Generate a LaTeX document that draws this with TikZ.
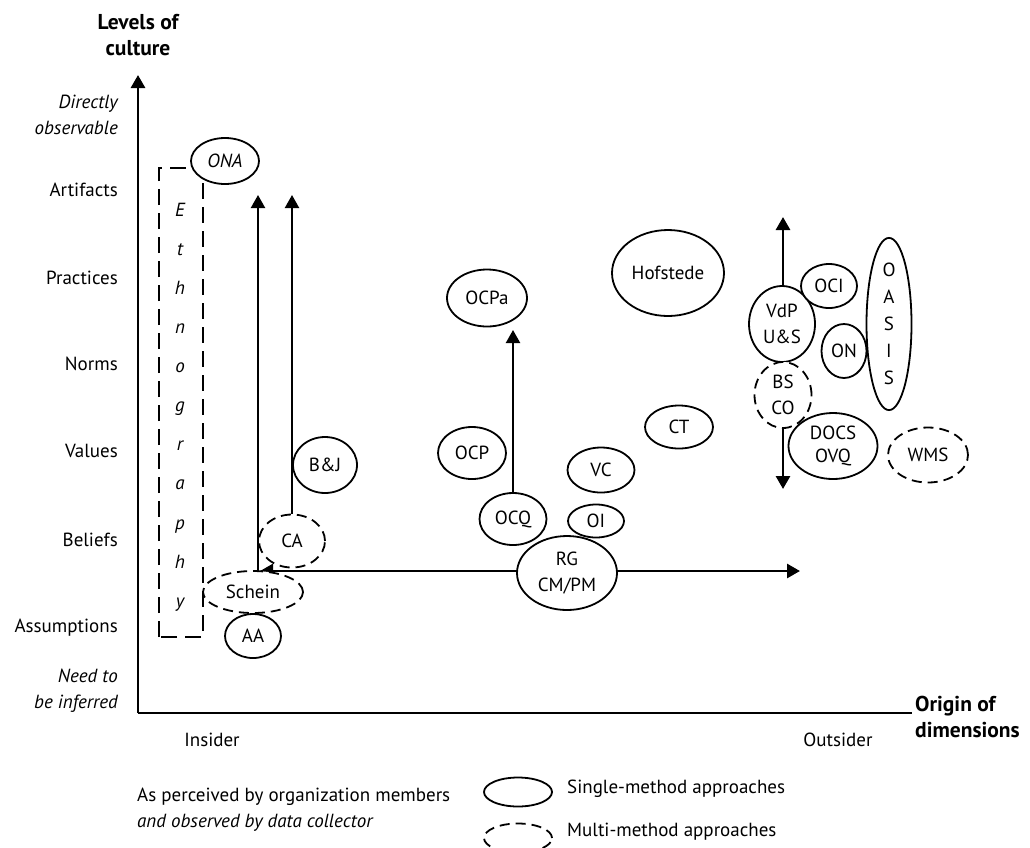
\documentclass[tikz,border=0pt]{standalone}
\usepackage{fontspec}
\setmainfont{PT Sans}
\usetikzlibrary{shapes.geometric,arrows.meta}

\tikzset{
  lab/.style={font=\fontsize{19}{26}\selectfont, inner sep=0pt},
  itlab/.style={lab, font=\fontsize{19}{26}\selectfont\itshape, align=right},
  title/.style={font=\fontsize{21.5}{25.5}\selectfont\bfseries, inner sep=0pt},
  sz/.style 2 args={minimum width=#1pt, minimum height=#2pt},
  single/.style={ellipse, draw, line width=1.8pt, fill=white, inner sep=0pt,
                 align=center, lab},
  multi/.style={single, dash pattern=on 10pt off 6pt},
  axis/.style={line width=2.8pt},
  tip/.style={-{Triangle[width=14pt,length=13pt]}},
  arr/.style={line width=2.2pt, tip},
  darr/.style={line width=2.8pt, {Triangle[width=14pt,length=13pt]}-{Triangle[width=14pt,length=13pt]}},
}

\begin{document}
\begin{tikzpicture}[x=1pt, y=-1pt]
\useasboundingbox (0,0) rectangle (1030,847);

% axes
\coordinate (origin) at (138,713);
\coordinate (ytop) at (138,75);
\coordinate (xend) at (912,713);
\draw[axis, tip] (origin) -- (ytop);
\draw[axis] (origin) -- (xend);

% axis titles
\node[title, align=center] (ytitle) at (138,35) {Levels of\\culture};
\node[title, align=left, anchor=west] (xtitle) at (915,717) {Origin of\\dimensions};

% levels of culture
\node[itlab, anchor=east] (lTop) at (118,115) {Directly\\observable};
\node[lab, anchor=east] (lArt) at (118,190) {Artifacts};
\node[lab, anchor=east] (lPra) at (118,278) {Practices};
\node[lab, anchor=east] (lNor) at (118,364) {Norms};
\node[lab, anchor=east] (lVal) at (118,451) {Values};
\node[lab, anchor=east] (lBel) at (118,540) {Beliefs};
\node[lab, anchor=east] (lAss) at (118,628) {Assumptions};
\node[itlab, anchor=east] (lBot) at (118,691) {Need to\\be inferred};

% origin of dimensions
\node[lab] (ins) at (212,740) {Insider};
\node[lab] (outs) at (838,740) {Outsider};

% ethnography frame
\draw[line width=2.8pt, dash pattern=on 16pt off 8pt] (159,637) rectangle (203,168);
\foreach \c [count=\i] in {E,t,h,n,o,g,r,a,p,h,y}
  \node[lab, font=\fontsize{19}{26}\selectfont\itshape] (eth\i) at (180,{211+39.1*(\i-1)}) {\strut\c};

% arrows of the insider approaches
\coordinate (hL) at (260,571);
\coordinate (hR) at (800,571);
\coordinate (v1b) at (258,571);
\coordinate (v1t) at (258,195);
\coordinate (v2t) at (292,195);
\draw[darr] (hL) -- (hR);
\draw[arr] (v1b) -- (v1t);

% right-hand vertical range
\coordinate (vT) at (783,217);
\coordinate (vB) at (783,489);
\draw[darr] (vB) -- (vT);

% approaches
\node[single, sz={68}{46}] (ONA) at (225,161) {\itshape ONA};
\node[multi, sz={66}{53}] (CA) at (292,541) {CA};
\draw[arr] (CA.north) -- (v2t);
\node[single, sz={64}{56}] (BJ) at (325,465) {B\&J};
\node[multi, sz={100}{42}] (Schein) at (253,592) {Schein};
\node[single, sz={56}{44}] (AA) at (253,636) {AA};

\node[single, sz={112}{86}] (Hof) at (668,273) {Hofstede};
\node[single, sz={80}{57}] (OCPa) at (487,298) {OCPa};
\node[single, sz={68}{52}] (OCP) at (472,453) {OCP};
\node[single, sz={67}{52}] (OCQ) at (513,519) {OCQ};
\coordinate (ocqT) at (513,330);
\draw[arr] (OCQ.north) -- (ocqT);
\node[single, sz={67}{45}] (VC) at (601,470) {VC};
\node[single, sz={56}{33}] (OI) at (596,521) {OI};
\node[single, sz={68}{43}] (CT) at (679,427) {CT};
\node[single, sz={100}{74}] (RG) at (567,573) {RG\\CM/PM};

\node[single, sz={66}{76}] (VdP) at (782,324) {VdP\\U\&S};
\node[single, sz={56}{44}] (OCI) at (829,286) {OCI};
\node[single, sz={45}{54}] (ON) at (844,351) {ON};
\node[single, sz={45}{150}, font=\fontsize{19}{27}\selectfont] (OASIS) at (889,324) {O\\A\\S\\I\\S};
\node[multi, sz={57}{66}] (BSCO) at (783,395) {BS\\CO};
\node[single, sz={89}{66}, font=\fontsize{19}{23}\selectfont] (DOCS) at (833,446) {DOCS\\OVQ};
\node[multi, sz={80}{55}] (WMS) at (928,455) {WMS};

% legend
\node[lab, anchor=west, align=left] (legtxt) at (137,810)
  {As perceived by organization members\\\itshape and observed by data collector};
\node[single, sz={68}{29}] (legS) at (518,792) {};
\node[multi, sz={68}{29}] (legM) at (518,838) {};
\node[lab, anchor=west] (legSt) at (567,789) {Single-method approaches};
\node[lab, anchor=west] (legMt) at (567,832) {Multi-method approaches};
\end{tikzpicture}
\end{document}
